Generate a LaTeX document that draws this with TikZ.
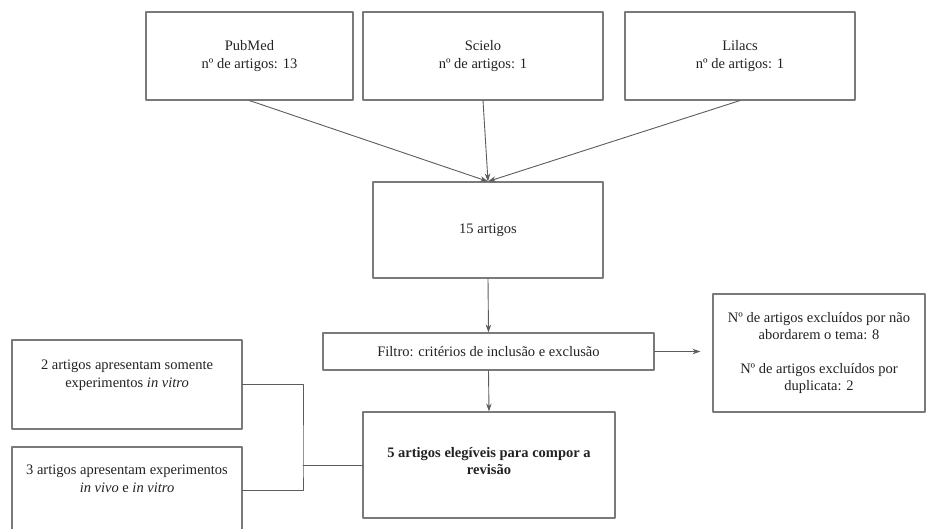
\documentclass[tikz,border=0pt]{standalone}
\usepackage{fontspec}
\setmainfont{Liberation Serif}
\usetikzlibrary{arrows.meta}
\definecolor{boxgray}{HTML}{7A7A7A}
\definecolor{linegray}{HTML}{5C5C5C}
\definecolor{txtgray}{HTML}{222222}
\begin{document}
\begin{tikzpicture}[x=1pt, y=-1pt, line cap=round, line join=round, >={Stealth[length=8pt, width=5.5pt]},
		txt/.style={align=center, text=txtgray, font=\fontsize{14.5}{17.5}\selectfont},
		box/.style={txt, draw=boxgray, line width=1.1pt, rectangle, inner sep=0pt},
		conn/.style={draw=linegray, line width=0.9pt},
		arr/.style={conn, ->}]
	% Page frame
	\useasboundingbox (0,0) rectangle (926,529);
	
	% Databases
	\node[box, minimum width=207, minimum height=88] (pubmed) at (249.5,56) {PubMed\\nº de artigos: 13};
	\node[box, minimum width=240, minimum height=88] (scielo) at (483,56) {Scielo\\nº de artigos: 1};
	\node[box, minimum width=230, minimum height=88] (lilacs) at (740,56) {Lilacs\\nº de artigos: 1};
	
	% Screening
	\node[box, minimum width=230, minimum height=96] (total) at (488,230) {15 artigos};
	\node[box, minimum width=331, minimum height=37] (filtro) at (488.5,351.5) {Filtro: critérios de inclusão e exclusão};
	\node[box, minimum width=212, minimum height=118] (excl) at (819,353)
		{Nº de artigos excluídos por não\\abordarem o tema: 8\\[16pt]Nº de artigos excluídos por\\duplicata: 2};
	\node[box, minimum width=252, minimum height=106,
		label={[txt, yshift=4pt]center:{\bfseries 5 artigos elegíveis para compor a\\\bfseries revisão}}] (final) at (489,465) {};
	
	% Study types (lower box runs past the page edge)
	\node[box, minimum width=230, minimum height=89,
		label={[txt, yshift=9.5pt]center:{2 artigos apresentam somente\\experimentos \textit{in vitro}}}] (vitro) at (127,384.5) {};
	\node[box, minimum width=230, minimum height=86,
		label={[txt, yshift=11pt]center:{3 artigos apresentam experimentos\\\textit{in vivo} e \textit{in vitro}}}] (vivo) at (127,490) {};
	\coordinate (join) at (303,465);
	
	% Arrows
	\draw[arr] (pubmed.south) -- (total.north);
	\draw[arr] (scielo.south) -- (total.north);
	\draw[arr] (lilacs.south) -- (total.north);
	\draw[arr] (total.south) -- (filtro.north);
	\draw[arr] (filtro.south) -- (final.north);
	\draw[arr, shorten >=12pt] (filtro.east) -- (filtro.east -| excl.west);
	
	% Bracket
	\draw[conn] (vitro.east) -| (join) |- (vivo.east);
	\draw[conn] (join) -- (final.west);
\end{tikzpicture}
\end{document}
